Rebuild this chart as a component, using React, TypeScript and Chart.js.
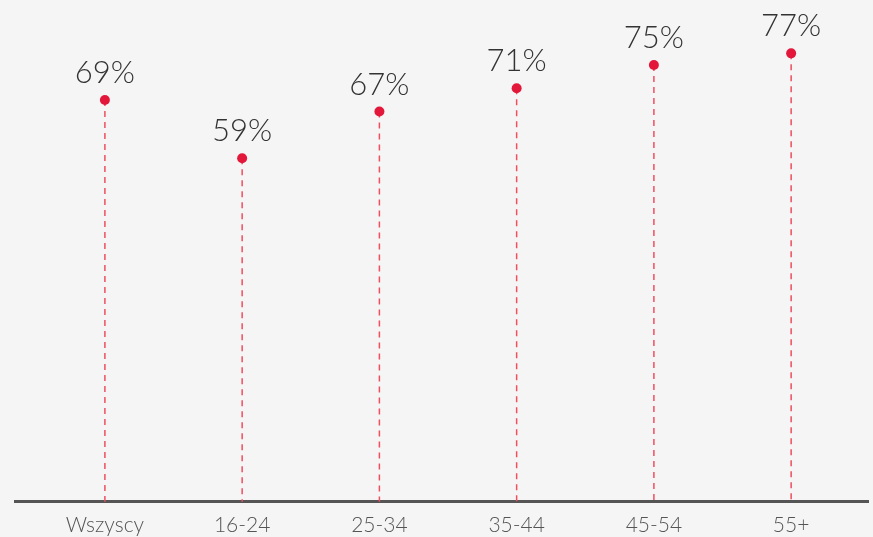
import React, { useEffect, useRef } from "react";
import { Chart, registerables } from "chart.js";

Chart.register(...registerables);

const categories: string[] = ["Wszyscy", "16-24", "25-34", "35-44", "45-54", "55+"];
const values: number[] = [69, 59, 67, 71, 75, 77];

const BG = "#f5f5f5";
const RED = "#e3173a";
const DASH = "#ef4f5f";
const CANVAS_H = 553;

const bgPlugin = {
  id: "bg",
  beforeDraw(chart: any) {
    const { ctx, width, height } = chart;
    ctx.save();
    ctx.fillStyle = BG;
    ctx.fillRect(0, 0, width, height);
    ctx.restore();
  },
};

const stemPlugin = {
  id: "stems",
  beforeDatasetsDraw(chart: any) {
    const { ctx, chartArea } = chart;
    const meta = chart.getDatasetMeta(0);
    ctx.save();
    ctx.strokeStyle = DASH;
    ctx.lineWidth = 1.5;
    ctx.setLineDash([6, 5]);
    meta.data.forEach((pt: any) => {
      ctx.beginPath();
      ctx.moveTo(pt.x, pt.y);
      ctx.lineTo(pt.x, chartArea.bottom);
      ctx.stroke();
    });
    ctx.restore();
  },
};

const labelPlugin = {
  id: "vlabels",
  afterDatasetsDraw(chart: any) {
    const { ctx } = chart;
    const meta = chart.getDatasetMeta(0);
    ctx.save();
    ctx.fillStyle = "#333333";
    ctx.font = "300 31px Lato";
    ctx.textAlign = "center";
    ctx.textBaseline = "alphabetic";
    meta.data.forEach((pt: any, i: number) => {
      ctx.fillText(`${values[i]}%`, pt.x, pt.y - 17);
    });
    ctx.restore();
  },
};

export default function App() {
  const ref = useRef<HTMLCanvasElement | null>(null);

  useEffect(() => {
    document.body.style.margin = "0";
    document.body.style.background = BG;
    document.body.style.overflow = "hidden";
    document.documentElement.style.overflow = "hidden";
    if (!ref.current) return;
    const chart = new Chart(ref.current, {
      type: "scatter",
      data: {
        datasets: [
          {
            data: values.map((v, i) => ({ x: i, y: v })),
            pointRadius: 5,
            pointHoverRadius: 5,
            backgroundColor: RED,
            borderColor: RED,
            borderWidth: 0,
            showLine: false,
          },
        ],
      },
      options: {
        responsive: false,
        animation: false,
        layout: { padding: { left: 15, right: 0, top: 0, bottom: 4 } },
        plugins: {
          legend: { display: false },
          tooltip: { enabled: false },
        },
        scales: {
          x: {
            type: "linear",
            min: -0.655,
            max: 5.56,
            afterBuildTicks: (scale: any) => {
              scale.ticks = categories.map((_, i) => ({ value: i }));
            },
            grid: { display: false, drawTicks: false },
            border: { display: true, color: "#555555", width: 3 },
            ticks: {
              autoSkip: false,
              maxRotation: 0,
              padding: 11,
              color: "#555555",
              font: { family: "Lato", size: 21, weight: "300" },
              callback: (v: any) => categories[v as number] ?? "",
            },
          },
          y: {
            display: false,
            min: 0,
            max: 85.3,
          },
        },
      },
      plugins: [bgPlugin, stemPlugin, labelPlugin],
    });
    return () => chart.destroy();
  }, []);

  return (
    <div style={{ position: "absolute", left: 0, top: 0, width: 873, height: 537, overflow: "hidden" }}>
      <canvas ref={ref} width={873} height={CANVAS_H} style={{ width: 873, height: CANVAS_H }} />
    </div>
  );
}
